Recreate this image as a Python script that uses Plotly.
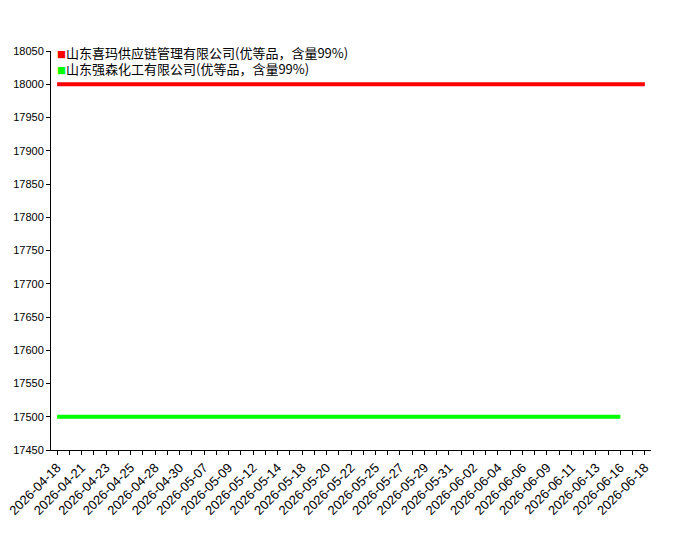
import plotly.graph_objects as go

# trading dates (category axis)
dates = [
    "2026-04-18", "2026-04-20", "2026-04-21", "2026-04-22", "2026-04-23",
    "2026-04-24", "2026-04-25", "2026-04-27", "2026-04-28", "2026-04-29",
    "2026-04-30", "2026-05-06", "2026-05-07", "2026-05-08", "2026-05-09",
    "2026-05-11", "2026-05-12", "2026-05-13", "2026-05-14", "2026-05-15",
    "2026-05-18", "2026-05-19", "2026-05-20", "2026-05-21", "2026-05-22",
    "2026-05-23", "2026-05-25", "2026-05-26", "2026-05-27", "2026-05-28",
    "2026-05-29", "2026-05-30", "2026-05-31", "2026-06-01", "2026-06-02",
    "2026-06-03", "2026-06-04", "2026-06-05", "2026-06-06", "2026-06-08",
    "2026-06-09", "2026-06-10", "2026-06-11", "2026-06-12", "2026-06-13",
    "2026-06-15", "2026-06-16", "2026-06-17", "2026-06-18",
]

name_a = "山东喜玛供应链管理有限公司(优等品，含量99%)"
name_b = "山东强森化工有限公司(优等品，含量99%)"

price_a = [18000] * 49
price_b = [17500] * 47 + [None, None]

y_ticks = [17450, 17500, 17550, 17600, 17650, 17700, 17750, 17800,
           17850, 17900, 17950, 18000, 18050]

tick_text = [d if i % 2 == 0 else "" for i, d in enumerate(dates)]

series = [(name_a, price_a, "#ff0000"), (name_b, price_b, "#00ff00")]

fig = go.Figure()
for name, vals, color in series:
    fig.add_trace(go.Scatter(x=dates, y=vals, mode="lines", name=name,
                             line=dict(color=color, width=4), showlegend=False))

# legend drawn as text lines with a small coloured square
for i, (name, vals, color) in enumerate(series):
    fig.add_annotation(
        xref="paper", yref="paper", x=0.006, y=0.997 - i * 0.04,
        xanchor="left", yanchor="middle", showarrow=False,
        text=f"<span style='color:{color};font-size:9px'>■</span>{name}",
        font=dict(size=13, family="Noto Sans CJK SC, Liberation Sans", color="black"),
    )

fig.update_layout(
    width=700, height=550,
    margin=dict(l=43, r=57, t=43, b=108),
    paper_bgcolor="white", plot_bgcolor="white",
    font=dict(family="Liberation Sans, Noto Sans CJK SC", size=12, color="black"),
    showlegend=False,
)
fig.update_xaxes(
    type="category", range=[-0.5, len(dates) - 0.5], automargin=False,
    tickmode="array", tickvals=dates, ticktext=tick_text, tickangle=-45,
    tickfont=dict(size=13),
    showline=True, linecolor="black", linewidth=1,
    ticks="outside", ticklen=4, tickcolor="black", showgrid=False,
)
fig.update_yaxes(
    range=[17450, 18050], tickmode="array", tickvals=y_ticks,
    ticktext=[str(v) for v in y_ticks], automargin=False,
    tickfont=dict(size=11),
    showline=True, linecolor="black", linewidth=1,
    ticks="outside", ticklen=4, tickcolor="black", showgrid=False,
    zeroline=False,
)

fig.write_html("out.html")
